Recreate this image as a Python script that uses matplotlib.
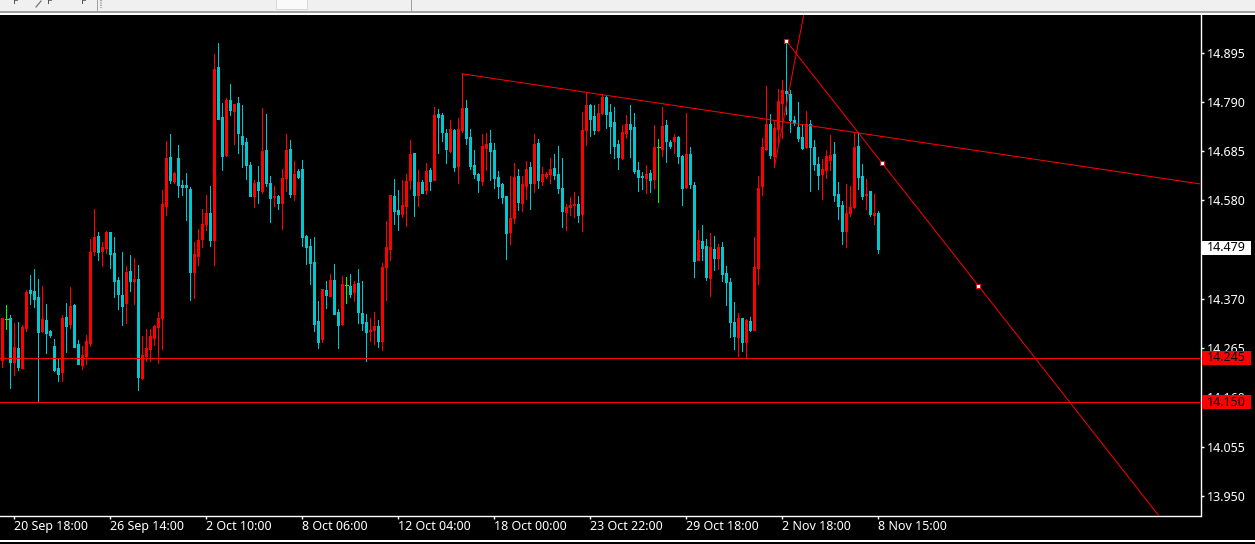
import matplotlib
matplotlib.use('Agg')
import matplotlib.pyplot as plt
from matplotlib.patches import Rectangle
import numpy as np

# candles, oldest first
opens = [14.240, 14.328, 14.329, 14.235, 14.265, 14.223, 14.308, 14.389, 14.387, 14.374,
         14.301, 14.325, 14.301, 14.269, 14.223, 14.214, 14.331, 14.316, 14.357, 14.274,
         14.229, 14.248, 14.276, 14.472, 14.504, 14.472, 14.479, 14.513, 14.468, 14.410,
         14.378, 14.361, 14.429, 14.408, 14.412, 14.201, 14.248, 14.263, 14.286, 14.310,
         14.329, 14.568, 14.673, 14.621, 14.670, 14.613, 14.613, 14.604, 14.427, 14.461,
         14.498, 14.530, 14.553, 14.496, 14.864, 14.758, 14.677, 14.794, 14.771, 14.788,
         14.717, 14.705, 14.656, 14.589, 14.619, 14.600, 14.688, 14.617, 14.587, 14.589,
         14.574, 14.628, 14.690, 14.594, 14.643, 14.647, 14.504, 14.483, 14.449, 14.323,
         14.284, 14.389, 14.376, 14.410, 14.342, 14.316, 14.399, 14.397, 14.385, 14.404,
         14.340, 14.321, 14.301, 14.304, 14.312, 14.280, 14.438, 14.476, 14.589, 14.560,
         14.551, 14.568, 14.624, 14.681, 14.592, 14.619, 14.602, 14.645, 14.624, 14.764,
         14.762, 14.724, 14.685, 14.730, 14.653, 14.730, 14.777, 14.715, 14.656, 14.636,
         14.621, 14.692, 14.702, 14.688, 14.630, 14.615, 14.589, 14.513, 14.542, 14.632,
         14.574, 14.611, 14.651, 14.617, 14.702, 14.621, 14.632, 14.636, 14.649, 14.636,
         14.606, 14.555, 14.566, 14.570, 14.572, 14.551, 14.730, 14.783, 14.760, 14.730,
         14.767, 14.801, 14.769, 14.747, 14.700, 14.671, 14.724, 14.743, 14.737, 14.645,
         14.631, 14.628, 14.639, 14.626, 14.693, 14.690, 14.741, 14.705, 14.707, 14.715,
         14.675, 14.609, 14.679, 14.613, 14.453, 14.493, 14.483, 14.415, 14.476, 14.457,
         14.481, 14.425, 14.406, 14.321, 14.289, 14.329, 14.278, 14.323, 14.304, 14.436,
         14.611, 14.690, 14.743, 14.675, 14.732, 14.788, 14.813, 14.807, 14.752, 14.737,
         14.715, 14.694, 14.743, 14.694, 14.658, 14.636, 14.645, 14.666, 14.679, 14.594,
         14.570, 14.515, 14.553, 14.566, 14.696, 14.632, 14.592, 14.600, 14.549, 14.553]
highs = [14.329, 14.357, 14.336, 14.318, 14.321, 14.314, 14.389, 14.420, 14.434, 14.412,
         14.397, 14.359, 14.304, 14.284, 14.242, 14.336, 14.361, 14.395, 14.359, 14.282,
         14.269, 14.293, 14.498, 14.562, 14.513, 14.491, 14.515, 14.513, 14.502, 14.417,
         14.470, 14.440, 14.464, 14.457, 14.442, 14.291, 14.306, 14.306, 14.314, 14.342,
         14.602, 14.707, 14.722, 14.641, 14.698, 14.624, 14.638, 14.609, 14.491, 14.519,
         14.562, 14.592, 14.611, 14.892, 14.916, 14.788, 14.798, 14.828, 14.786, 14.801,
         14.783, 14.713, 14.662, 14.624, 14.653, 14.777, 14.764, 14.632, 14.611, 14.592,
         14.647, 14.722, 14.709, 14.664, 14.647, 14.666, 14.506, 14.498, 14.502, 14.365,
         14.391, 14.408, 14.423, 14.444, 14.348, 14.419, 14.417, 14.423, 14.408, 14.434,
         14.408, 14.338, 14.329, 14.342, 14.325, 14.447, 14.536, 14.592, 14.626, 14.602,
         14.624, 14.636, 14.709, 14.681, 14.645, 14.624, 14.660, 14.649, 14.779, 14.775,
         14.766, 14.732, 14.752, 14.732, 14.756, 14.851, 14.794, 14.732, 14.688, 14.638,
         14.722, 14.724, 14.730, 14.702, 14.643, 14.617, 14.589, 14.632, 14.660, 14.647,
         14.632, 14.664, 14.662, 14.722, 14.711, 14.651, 14.641, 14.670, 14.679, 14.696,
         14.670, 14.572, 14.587, 14.598, 14.589, 14.769, 14.811, 14.786, 14.783, 14.786,
         14.808, 14.803, 14.786, 14.779, 14.709, 14.741, 14.762, 14.784, 14.767, 14.662,
         14.641, 14.656, 14.645, 14.741, 14.711, 14.779, 14.752, 14.709, 14.722, 14.717,
         14.677, 14.767, 14.694, 14.619, 14.517, 14.528, 14.498, 14.510, 14.504, 14.487,
         14.491, 14.440, 14.415, 14.363, 14.340, 14.329, 14.327, 14.331, 14.502, 14.632,
         14.713, 14.824, 14.764, 14.752, 14.818, 14.837, 14.919, 14.816, 14.760, 14.790,
         14.741, 14.771, 14.752, 14.709, 14.673, 14.668, 14.688, 14.720, 14.705, 14.619,
         14.579, 14.615, 14.611, 14.724, 14.726, 14.658, 14.626, 14.600, 14.594, 14.557]
lows = [14.225, 14.306, 14.180, 14.208, 14.218, 14.223, 14.301, 14.359, 14.353, 14.152,
        14.299, 14.254, 14.289, 14.216, 14.195, 14.195, 14.257, 14.308, 14.267, 14.231,
        14.220, 14.231, 14.269, 14.464, 14.453, 14.440, 14.468, 14.436, 14.374, 14.348,
        14.314, 14.318, 14.387, 14.359, 14.176, 14.199, 14.237, 14.237, 14.272, 14.233,
        14.263, 14.549, 14.617, 14.617, 14.587, 14.592, 14.538, 14.368, 14.372, 14.442,
        14.481, 14.517, 14.483, 14.442, 14.754, 14.645, 14.675, 14.762, 14.700, 14.681,
        14.651, 14.626, 14.589, 14.566, 14.574, 14.596, 14.611, 14.534, 14.568, 14.562,
        14.519, 14.600, 14.587, 14.581, 14.628, 14.483, 14.444, 14.402, 14.301, 14.265,
        14.278, 14.350, 14.376, 14.338, 14.265, 14.314, 14.361, 14.374, 14.365, 14.318,
        14.304, 14.237, 14.280, 14.274, 14.267, 14.261, 14.368, 14.453, 14.530, 14.517,
        14.545, 14.525, 14.604, 14.547, 14.568, 14.596, 14.594, 14.602, 14.624, 14.681,
        14.707, 14.660, 14.683, 14.643, 14.617, 14.726, 14.700, 14.647, 14.628, 14.598,
        14.613, 14.645, 14.624, 14.606, 14.585, 14.574, 14.455, 14.487, 14.532, 14.560,
        14.557, 14.583, 14.562, 14.598, 14.606, 14.613, 14.628, 14.617, 14.626, 14.596,
        14.523, 14.517, 14.549, 14.545, 14.534, 14.515, 14.698, 14.717, 14.722, 14.728,
        14.764, 14.735, 14.681, 14.671, 14.647, 14.668, 14.713, 14.673, 14.639, 14.600,
        14.604, 14.596, 14.598, 14.606, 14.577, 14.675, 14.662, 14.692, 14.681, 14.660,
        14.570, 14.607, 14.607, 14.417, 14.453, 14.453, 14.410, 14.376, 14.432, 14.434,
        14.408, 14.357, 14.289, 14.263, 14.248, 14.259, 14.244, 14.301, 14.304, 14.402,
        14.592, 14.688, 14.671, 14.651, 14.702, 14.713, 14.764, 14.726, 14.741, 14.707,
        14.690, 14.692, 14.600, 14.645, 14.604, 14.583, 14.628, 14.645, 14.579, 14.540,
        14.487, 14.481, 14.547, 14.564, 14.604, 14.583, 14.562, 14.547, 14.530, 14.468]
closes = [14.329, 14.328, 14.235, 14.267, 14.224, 14.310, 14.385, 14.383, 14.370, 14.299,
          14.327, 14.297, 14.293, 14.218, 14.210, 14.329, 14.312, 14.355, 14.267, 14.231,
          14.250, 14.280, 14.470, 14.502, 14.470, 14.481, 14.513, 14.466, 14.408, 14.380,
          14.355, 14.427, 14.408, 14.412, 14.203, 14.250, 14.265, 14.291, 14.312, 14.329,
          14.572, 14.670, 14.624, 14.638, 14.613, 14.609, 14.609, 14.427, 14.466, 14.496,
          14.530, 14.553, 14.496, 14.860, 14.754, 14.675, 14.794, 14.773, 14.786, 14.724,
          14.700, 14.656, 14.589, 14.617, 14.602, 14.685, 14.617, 14.585, 14.589, 14.574,
          14.628, 14.688, 14.594, 14.636, 14.630, 14.502, 14.481, 14.446, 14.316, 14.278,
          14.391, 14.378, 14.410, 14.338, 14.314, 14.402, 14.399, 14.380, 14.402, 14.342,
          14.318, 14.299, 14.304, 14.312, 14.280, 14.438, 14.481, 14.592, 14.557, 14.551,
          14.570, 14.621, 14.679, 14.592, 14.619, 14.596, 14.643, 14.621, 14.762, 14.758,
          14.726, 14.690, 14.732, 14.651, 14.732, 14.777, 14.713, 14.653, 14.636, 14.624,
          14.696, 14.700, 14.685, 14.628, 14.611, 14.587, 14.510, 14.542, 14.630, 14.577,
          14.615, 14.647, 14.617, 14.700, 14.624, 14.636, 14.636, 14.647, 14.634, 14.606,
          14.557, 14.566, 14.570, 14.572, 14.549, 14.730, 14.783, 14.754, 14.730, 14.766,
          14.801, 14.764, 14.739, 14.696, 14.673, 14.726, 14.743, 14.732, 14.643, 14.630,
          14.629, 14.636, 14.624, 14.694, 14.693, 14.739, 14.707, 14.696, 14.715, 14.675,
          14.607, 14.679, 14.615, 14.451, 14.496, 14.479, 14.417, 14.481, 14.457, 14.481,
          14.423, 14.406, 14.321, 14.291, 14.329, 14.278, 14.325, 14.304, 14.438, 14.607,
          14.694, 14.743, 14.677, 14.735, 14.792, 14.816, 14.809, 14.752, 14.745, 14.713,
          14.692, 14.743, 14.694, 14.658, 14.634, 14.647, 14.675, 14.677, 14.592, 14.568,
          14.515, 14.553, 14.566, 14.694, 14.630, 14.589, 14.594, 14.551, 14.553, 14.476]

support_levels = [14.245, 14.150]
last_price = 14.479

trend_a_x = [115, 299.6]
trend_a_y = [14.850, 14.615]
trend_b_x = [196, 290]
trend_b_y = [14.920, 13.898]
trend_c_x = [193, 201]
trend_c_y = [14.651, 15.005]
anchor_x = [196, 220, 244]
anchor_y = [14.920, 14.660, 14.398]

price_ticks = [14.895, 14.790, 14.685, 14.580, 14.475, 14.370, 14.265, 14.160, 14.055, 13.950]
time_pos = [3, 27, 51, 75, 99, 123, 147, 171, 195, 219]
time_labels = ['20 Sep 18:00', '26 Sep 14:00', '2 Oct 10:00', '8 Oct 06:00', '12 Oct 04:00',
               '18 Oct 00:00', '23 Oct 22:00', '29 Oct 18:00', '2 Nov 18:00', '8 Nov 15:00']
period_labels = ['M1', 'M5', 'M15', 'M30', 'H1', 'H4', 'D1', 'W1', 'MN']
period_pos = [121, 157, 192, 224, 257, 291, 327, 365, 392]

W, H = 1255, 544
CYAN = '#00c8d2'
RED = '#ff0000'
GREEN = '#00ff00'
FONT = 'Noto Sans'
px = 0.72  # one pixel in points at dpi 100

fig = plt.figure(figsize=(W / 100, H / 100), dpi=100, facecolor='black')

# toolbar strip along the top, cut off by the screenshot
bg = fig.add_axes([0, 0, 1, 1], zorder=0)
bg.set_xlim(0, W)
bg.set_ylim(H, 0)
bg.axis('off')
bg.add_patch(Rectangle((0, 0), W, 11, fc='#f0f0f0', ec='none'))
bg.add_patch(Rectangle((0, 11), W, 2, fc='#a0a0a0', ec='none'))
bg.add_patch(Rectangle((0, 13), W, 2, fc='white', ec='none'))
bg.add_patch(Rectangle((276, -1), 31, 10, fc='#fafafa', ec='#d8d8d8', lw=px))
bg.add_patch(Rectangle((0, 540), W, 2, fc='white', ec='none'))
bg.plot([97, 97], [0, 11], color='#a0a0a0', lw=px)
bg.plot([411, 411], [0, 11], color='#a0a0a0', lw=px)
bg.plot([101, 101], [0, 8], color='#a8a8a8', lw=2 * px, ls=(0, (0.6, 0.6)))
bg.plot([36, 41], [7, 1], color='#707070', lw=1.2 * px)
for fx in [16, 50, 84]:
    bg.text(fx, 7.5, 'F', color='#505050', fontsize=7.5, fontweight='bold', family=FONT,
            ha='center', va='bottom', clip_on=True)
for px_x, lab in zip(period_pos, period_labels):
    bg.text(px_x, 2.5, lab, color='#b4b4b4', fontsize=8, family=FONT,
            ha='center', va='bottom', clip_on=True)

ax = fig.add_axes([0, (H - 516) / H, 1200.5 / W, (516 - 15) / H], zorder=1)
ax.set_facecolor('black')
ax.set_xlim(-0.583, 299.54)
ax.set_ylim(13.907, 14.9755)

o = np.array(opens)
c = np.array(closes)
x = np.arange(len(o))
colors = np.where(c > o, RED, np.where(c < o, CYAN, GREEN))

# wicks then bodies
ax.vlines(x, lows, highs, colors=colors, lw=px, antialiased=False, zorder=2)
tall = c != o
bottoms = np.minimum(o, c)
tops = bottoms + np.maximum(np.abs(c - o), 0.0022)
ax.vlines(x[tall], bottoms[tall], tops[tall], colors=colors[tall], lw=3 * px,
          antialiased=False, capstyle='butt', zorder=3)
ax.hlines(o[~tall], x[~tall] - 0.4, x[~tall] + 0.4, colors=GREEN, lw=px, antialiased=False, zorder=3)

# hand drawn objects
for lvl in support_levels:
    ax.axhline(lvl, color=RED, lw=px, antialiased=False, zorder=4)
ax.plot(trend_a_x, trend_a_y, color=RED, lw=px, zorder=4)
ax.plot(trend_b_x, trend_b_y, color=RED, lw=px, zorder=4)
ax.plot(trend_c_x, trend_c_y, color=RED, lw=px, zorder=4)
ax.plot(anchor_x, anchor_y, ls='none', marker='s', ms=3, mfc='white', mec=RED, mew=px, zorder=5)

for side in ['top', 'left']:
    ax.spines[side].set_visible(False)
for side in ['bottom', 'right']:
    ax.spines[side].set_color('white')
    ax.spines[side].set_linewidth(1)

ax.yaxis.tick_right()
ax.set_yticks(price_ticks)
ax.set_yticklabels(['%.3f' % v for v in price_ticks], color='white', fontsize=9, family=FONT)
ax.set_xticks(time_pos)
ax.set_xticklabels(time_labels, color='white', fontsize=9, family=FONT, ha='left')
ax.tick_params(axis='y', length=2.2, width=1, color='white', pad=2.5)
ax.tick_params(axis='x', length=2.2, width=1, color='white', pad=1)

# price boxes on the right scale
trans = ax.get_yaxis_transform()
box_x = 1202 / 1200.5
box_w = 49 / 1200.5
box_h = 14 * 0.002132
labels = [(last_price, 'white')] + [(v, RED) for v in support_levels]
for val, col in labels:
    ax.add_patch(Rectangle((box_x, val - box_h / 2), box_w, box_h, transform=trans,
                           fc=col, ec='none', clip_on=False, zorder=6))
    ax.text(1226.5 / 1200.5, val, '%.3f' % val, transform=trans, color='black', fontsize=9,
            family=FONT, ha='center', va='center', clip_on=False, zorder=7)

fig.savefig('out.png', dpi=100, facecolor='black')
